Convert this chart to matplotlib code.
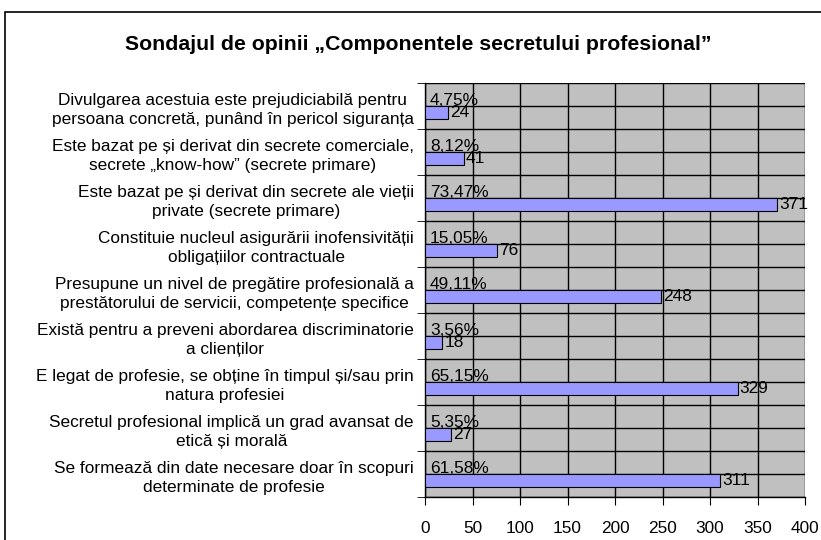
import matplotlib.pyplot as plt
from matplotlib.patches import Rectangle
import numpy as np

plt.rcParams['font.family'] = ['Liberation Sans', 'DejaVu Sans']

# categorii (de sus in jos)
categorii = [
    "Divulgarea acestuia este prejudiciabilă pentru\npersoana concretă, punând în pericol siguranța",
    "Este bazat pe și derivat din secrete comerciale,\nsecrete „know-how” (secrete primare)",
    "Este bazat pe și derivat din secrete ale vieții\nprivate (secrete primare)",
    "Constituie nucleul asigurării inofensivității\nobligațiilor contractuale",
    "Presupune un nivel de pregătire profesională a\nprestătorului de servicii, competențe specifice",
    "Există pentru a preveni abordarea discriminatorie\na clienților",
    "E legat de profesie, se obține în timpul și/sau prin\nnatura profesiei",
    "Secretul profesional implică un grad avansat de\netică și morală",
    "Se formează din date necesare doar în scopuri\ndeterminate de profesie",
]
numar = [24, 41, 371, 76, 248, 18, 329, 27, 311]
procente = ["4,75%", "8,12%", "73,47%", "15,05%", "49,11%", "3,56%", "65,15%", "5,35%", "61,58%"]
ticks_x = [0, 50, 100, 150, 200, 250, 300, 350, 400]

fs = 12.4

fig = plt.figure(figsize=(8.21, 5.40), dpi=100)
# chenarul exterior
fig.patches.append(Rectangle((5 / 821, -0.1), 1.2, 1 - 12 / 540 + 0.1, transform=fig.transFigure,
                             fill=False, edgecolor='black', linewidth=1.2))

ax = fig.add_axes([425 / 821, 1 - 497 / 540, 380 / 821, 414 / 540])
ax.set_facecolor('#C0C0C0')

y = np.arange(len(categorii))
ax.barh(y, numar, height=0.28, align='edge', color='#9999FF', edgecolor='black', linewidth=0.8, zorder=3)

for i in range(len(categorii)):
    ax.annotate(procente[i], (0, y[i]), xytext=(3.5, 1), textcoords='offset points',
                ha='left', va='baseline', fontsize=fs, zorder=4)
    ax.annotate(str(numar[i]), (numar[i], y[i] + 0.14), xytext=(1.5, 0), textcoords='offset points',
                ha='left', va='center', fontsize=fs, zorder=4)

ax.set_xlim(0, 400)
ax.set_ylim(len(categorii) - 0.5, -0.5)
ax.set_xticks(ticks_x)
ax.set_xticklabels([str(t) for t in ticks_x], fontsize=fs)
ax.set_yticks(y)
ax.set_yticklabels(categorii, fontsize=fs, multialignment='center', linespacing=1.35)
ax.set_yticks(np.arange(len(categorii) + 1) - 0.5, minor=True)

ax.tick_params(axis='y', which='major', length=0, pad=8)
ax.tick_params(axis='y', which='minor', length=6, direction='out')
ax.tick_params(axis='x', which='major', length=6, direction='out', pad=11)

ax.grid(True, axis='x', color='black', linewidth=1, zorder=1)
ax.grid(True, axis='y', which='both', color='black', linewidth=1, zorder=1)
ax.set_axisbelow(True)

for s in ['top', 'right']:
    ax.spines[s].set_visible(False)
ax.spines['left'].set_linewidth(1)
ax.spines['bottom'].set_linewidth(1)

fig.text(418 / 821, 1 - 45 / 540, "Sondajul de opinii „Componentele secretului profesional”",
         ha='center', va='center', fontsize=15.3, fontweight='bold')

fig.savefig('out.png', dpi=100)
